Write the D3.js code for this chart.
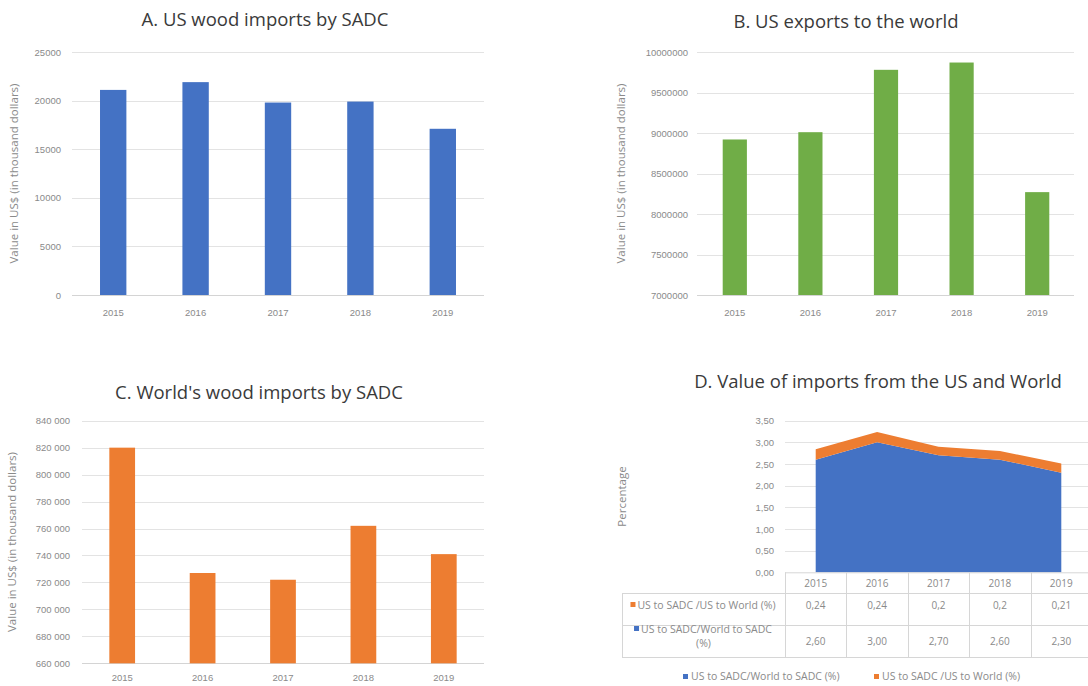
<!DOCTYPE html>
<html>
<head>
<meta charset="utf-8">
<script src="https://cdn.jsdelivr.net/npm/d3@7"></script>
<style>
  body { margin: 0; background: #fff; }
  svg { display: block; font-family: "Open Sans", "Noto Sans", sans-serif; }
</style>
</head>
<body>
<svg id="chart" width="1088" height="686"></svg>
<script>
const years = ["2015", "2016", "2017", "2018", "2019"];

// A. US wood imports by SADC (thousand US$)
const usImportsSADC = [21100, 21900, 19800, 19900, 17100];
const ticksA = [0, 5000, 10000, 15000, 20000, 25000];

// B. US exports to the world (thousand US$)
const usExportsWorld = [8920000, 9010000, 9780000, 9870000, 8270000];
const ticksB = [7000000, 7500000, 8000000, 8500000, 9000000, 9500000, 10000000];

// C. World's wood imports by SADC (thousand US$)
const worldImportsSADC = [820000, 727000, 722000, 762000, 741000];
const ticksC = [660000, 680000, 700000, 720000, 740000, 760000, 780000, 800000, 820000, 840000];

// D. shares (%)
const shareUSWorldToSADC = [2.60, 3.00, 2.70, 2.60, 2.30];
const shareUSToSADCvsWorld = [0.24, 0.24, 0.2, 0.2, 0.21];
const ticksD = [0, 0.5, 1, 1.5, 2, 2.5, 3, 3.5];
const seriesNames = ["US to SADC/World to SADC (%)", "US to SADC /US to World (%)"];

const BLUE = "#4472C4", ORANGE = "#ED7D31", GREEN = "#70AD47";
const GRID = "#e3e3e3", TICK = "#8a8a8a", TITLE = "#3a3a3a";

const svg = d3.select("#chart");
const spaced = d3.formatLocale({ decimal: ",", thousands: " ", grouping: [3], currency: ["", ""] });

function barPanel(opt) {
  const g = svg.append("g");
  const x = d3.scaleBand().domain(years).range(opt.xr).paddingInner(0.68).paddingOuter(0.34);
  const y = d3.scaleLinear().domain(opt.domain).range(opt.yr);

  g.append("text")
    .attr("x", opt.titleX).attr("y", opt.titleY)
    .attr("text-anchor", "middle")
    .attr("fill", TITLE)
    .style("font-size", "18.5px")
    .text(opt.title);

  g.selectAll(".grid").data(opt.ticks).enter().append("line")
    .attr("x1", opt.xr[0]).attr("x2", opt.gridEnd)
    .attr("y1", d => Math.round(y(d)) + 0.5).attr("y2", d => Math.round(y(d)) + 0.5)
    .attr("stroke", (d, i) => i === 0 ? "#d4d4d4" : GRID);

  const yAxis = g.append("g")
    .attr("transform", `translate(${opt.labelX},0)`)
    .call(d3.axisLeft(y).tickValues(opt.ticks).tickSize(0).tickPadding(0).tickFormat(opt.fmt));
  yAxis.select(".domain").remove();
  yAxis.selectAll("text").attr("fill", TICK).style("font-size", "9.5px").style("font-family", "inherit");

  const xAxis = g.append("g")
    .attr("transform", `translate(0,${opt.yr[0]})`)
    .call(d3.axisBottom(x).tickSize(0).tickPadding(opt.xPad));
  xAxis.select(".domain").remove();
  xAxis.selectAll("text").attr("fill", TICK).style("font-size", "9.5px").style("font-family", "inherit");

  g.append("text")
    .attr("transform", `translate(${opt.axisTitleX},${(opt.yr[0] + opt.yr[1]) / 2}) rotate(-90)`)
    .attr("text-anchor", "middle")
    .attr("fill", TICK)
    .style("font-size", "11.5px")
    .text("Value in US$ (in thousand dollars)");

  g.selectAll(".bar").data(opt.values).enter().append("rect")
    .attr("x", (d, i) => x(years[i]))
    .attr("width", x.bandwidth())
    .attr("y", d => y(d))
    .attr("height", d => y(opt.domain[0]) - y(d))
    .attr("fill", opt.color);
}

barPanel({
  title: "A. US wood imports by SADC", titleX: 265, titleY: 26,
  values: usImportsSADC, ticks: ticksA, domain: [0, 25000],
  xr: [72, 484], yr: [295, 52], gridEnd: 484, labelX: 61, axisTitleX: 18, xPad: 14,
  fmt: d3.format("d"), color: BLUE
});

barPanel({
  title: "B. US exports to the world", titleX: 846, titleY: 28,
  values: usExportsWorld, ticks: ticksB, domain: [7000000, 10000000],
  xr: [697, 1075], yr: [295, 52], gridEnd: 1074, labelX: 688, axisTitleX: 625, xPad: 14,
  fmt: d3.format("d"), color: GREEN
});

barPanel({
  title: "C. World's wood imports by SADC", titleX: 259, titleY: 399,
  values: worldImportsSADC, ticks: ticksC, domain: [660000, 840000],
  xr: [82, 484], yr: [663.3, 420.7], gridEnd: 484, labelX: 70, axisTitleX: 16, xPad: 11,
  fmt: spaced.format(",d"), color: ORANGE
});

// ---- Panel D: stacked area with data table ----
(function () {
  const g = svg.append("g");
  const x = d3.scaleBand().domain(years).range([785, 1092]);
  const cx = d => x(d) + x.bandwidth() / 2;
  const y = d3.scaleLinear().domain([0, 3.5]).range([572.3, 420.7]);

  g.append("text")
    .attr("x", 878).attr("y", 388)
    .attr("text-anchor", "middle")
    .attr("fill", TITLE)
    .style("font-size", "18.5px")
    .text("D. Value of imports from the US and World");

  g.selectAll(".grid").data(ticksD.slice(1)).enter().append("line")
    .attr("x1", 785).attr("x2", 1088)
    .attr("y1", d => Math.round(y(d)) + 0.5).attr("y2", d => Math.round(y(d)) + 0.5)
    .attr("stroke", GRID);

  const yAxis = g.append("g")
    .attr("transform", "translate(774,0)")
    .call(d3.axisLeft(y).tickValues(ticksD).tickSize(0).tickPadding(0)
      .tickFormat(d => d3.format(".2f")(d).replace(".", ",")));
  yAxis.select(".domain").remove();
  yAxis.selectAll("text").attr("fill", TICK).style("font-size", "9.5px").style("font-family", "inherit");

  g.append("text")
    .attr("transform", `translate(626,${(572.3 + 420.7) / 2}) rotate(-90)`)
    .attr("text-anchor", "middle")
    .attr("fill", TICK)
    .style("font-size", "11.5px")
    .text("Percentage");

  const rows = years.map((yr, i) => ({ year: yr, blue: shareUSWorldToSADC[i], orange: shareUSToSADCvsWorld[i] }));
  const stacked = d3.stack().keys(["blue", "orange"])(rows);
  const area = d3.area()
    .x(d => cx(d.data.year))
    .y0(d => y(d[0]))
    .y1(d => y(d[1]));
  g.selectAll(".layer").data(stacked).enter().append("path")
    .attr("d", area)
    .attr("fill", d => d.key === "blue" ? BLUE : ORANGE);

  // table
  const tLeft = 622, colStart = 785, tRight = 1092;
  const yHead = 572.3, yR1 = 593.5, yR2 = 625.5, yEnd = 657.5;
  const line = (x1, y1, x2, y2) => g.append("line")
    .attr("x1", x1).attr("y1", y1).attr("x2", x2).attr("y2", y2)
    .attr("stroke", "#d6d6d6");
  line(colStart, yHead + 0.5, tRight, yHead + 0.5);
  line(tLeft, yR1, tRight, yR1);
  line(tLeft, yR2, tRight, yR2);
  line(tLeft, yEnd, tRight, yEnd);
  line(tLeft + 0.5, yR1, tLeft + 0.5, yEnd);
  years.forEach(yr => line(Math.round(x(yr)) + 0.5, yHead, Math.round(x(yr)) + 0.5, yEnd));

  const tt = (tx, ty, s, anchor, size) => g.append("text")
    .attr("x", tx).attr("y", ty).attr("text-anchor", anchor || "middle")
    .attr("fill", TICK).style("font-size", size || "10.5px").text(s);

  years.forEach((yr, i) => {
    tt(cx(yr), 587, yr, "middle", "10px");
    tt(cx(yr), 609, String(shareUSToSADCvsWorld[i]).replace(".", ","), "middle", "10px");
    tt(cx(yr), 645, d3.format(".2f")(shareUSWorldToSADC[i]).replace(".", ","), "middle", "10px");
  });

  const labMid = (tLeft + colStart) / 2;
  const r1 = tt(labMid + 3, 609, seriesNames[1]);
  const b1 = r1.node().getBBox();
  g.append("rect").attr("x", b1.x - 7).attr("y", 602).attr("width", 5).attr("height", 5).attr("fill", ORANGE);

  const r2 = tt(labMid + 3, 633, "US to SADC/World to SADC");
  const b2 = r2.node().getBBox();
  g.append("rect").attr("x", b2.x - 7).attr("y", 626).attr("width", 5).attr("height", 5).attr("fill", BLUE);
  tt(labMid, 647, "(%)");

  // legend
  const legend = [
    { name: seriesNames[0], color: BLUE, x: 683 },
    { name: seriesNames[1], color: ORANGE, x: 874 }
  ];
  legend.forEach(l => {
    g.append("rect").attr("x", l.x).attr("y", 674).attr("width", 5).attr("height", 5).attr("fill", l.color);
    tt(l.x + 8, 680, l.name, "start");
  });
})();
</script>
</body>
</html>
